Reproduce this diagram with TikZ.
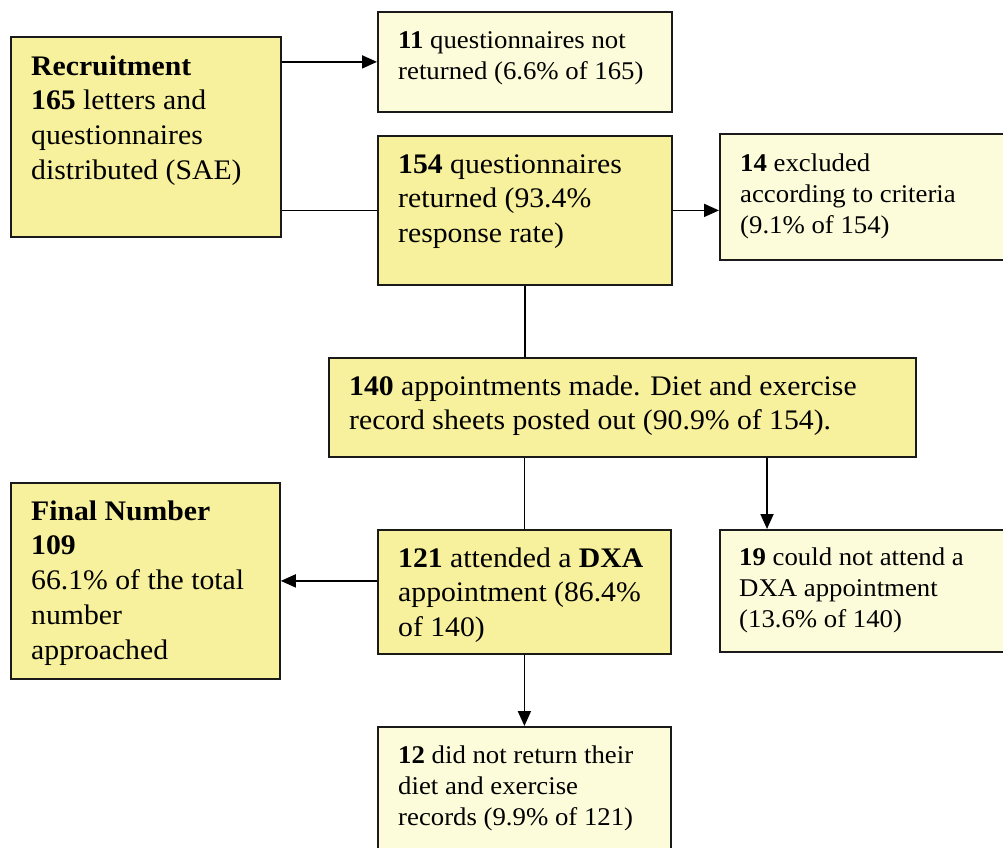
\documentclass[tikz,border=0pt]{standalone}
\usepackage{fontspec}
\setmainfont{Liberation Serif}[FakeStretch=1.05]
\usetikzlibrary{arrows.meta,calc}
\definecolor{darkfill}{HTML}{F7F09C}
\definecolor{lightfill}{HTML}{FCFCDA}
\definecolor{edgecol}{HTML}{1A1A1A}
\newcommand{\firstln}[1]{\rule{0pt}{#1}}
\begin{document}
\begin{tikzpicture}[x=1pt,y=-1pt,
  box/.style={draw=edgecol,line width=1.8pt,inner sep=0pt,anchor=north west},
  darkbox/.style={box,fill=darkfill},
  lightbox/.style={box,fill=lightfill},
  bigtext/.style={anchor=north west,inner sep=0pt,align=left,font=\fontsize{28.3}{34.7}\selectfont},
  smalltext/.style={anchor=north west,inner sep=0pt,align=left,font=\fontsize{25.5}{31}\selectfont},
  link/.style={line width=1.8pt,draw=black},
  arr/.style={link,-{Triangle[length=15pt,width=13pt]}}
]
\clip (0,0) rectangle (1003,847);
\fill[white] (0,0) rectangle (1003,847);

% boxes
\node[darkbox, minimum width=270pt, minimum height=200pt] (b1) at (10,36) {};
\node[lightbox, minimum width=294pt, minimum height=100pt] (b2) at (377,11) {};
\node[darkbox, minimum width=294pt, minimum height=149pt] (b3) at (377,135) {};
\node[lightbox, minimum width=300pt, minimum height=126pt] (b4) at (719,133) {};
\node[darkbox, minimum width=587pt, minimum height=99pt] (b5) at (328,357) {};
\node[darkbox, minimum width=269pt, minimum height=196pt] (b6) at (10,482) {};
\node[darkbox, minimum width=293pt, minimum height=124pt] (b7) at (377,529) {};
\node[lightbox, minimum width=300pt, minimum height=122pt] (b8) at (719,529) {};
\node[lightbox, minimum width=293pt, minimum height=140pt] (b9) at (377,726) {};

% texts
\node[bigtext] (t1) at (31,53) {\firstln{22pt}\textbf{Recruitment}\\\textbf{165} letters and\\questionnaires\\distributed (SAE)};
\node[smalltext] (t2) at (398,28) {\firstln{20pt}\textbf{11} questionnaires not\\returned (6.6\% of 165)};
\node[bigtext] (t3) at (398,151) {\firstln{22pt}\textbf{154} questionnaires\\returned (93.4\%\\response rate)};
\node[smalltext] (t4) at (740,151) {\firstln{20pt}\textbf{14} excluded\\according to criteria\\(9.1\% of 154)};
\node[bigtext] (t5) at (349,373) {\firstln{22pt}\textbf{140} appointments made. Diet and exercise\\record sheets posted out (90.9\% of 154).};
\node[bigtext] (t6) at (31,498) {\firstln{22pt}\textbf{Final Number}\\\textbf{109}\\66.1\% of the total\\number\\approached};
\node[bigtext] (t7) at (398,545) {\firstln{22pt}\textbf{121} attended a \textbf{DXA}\\appointment (86.4\%\\of 140)};
\node[smalltext] (t8) at (739,545) {\firstln{20pt}\textbf{19} could not attend a\\DXA appointment\\(13.6\% of 140)};
\node[smalltext] (t9) at (398,743) {\firstln{20pt}\textbf{12} did not return their\\diet and exercise\\records (9.9\% of 121)};

% connectors
\coordinate (c8) at ($(b8.north west)+(48,0)$);
\draw[arr] (b1.east |- b2.west) -- (b2.west);
\draw[link] (b1.east |- b3.west) -- (b3.west);
\draw[arr] (b3.east) -- (b3.east -| b4.west);
\draw[link] (b3.south) -- (b3.south |- b5.north);
\draw[link] (b7.north |- b5.south) -- (b7.north);
\draw[arr] (c8 |- b5.south) -- (c8);
\draw[arr] (b6.east -| b7.west) -- (b6.east);
\draw[arr] (b7.south) -- (b9.north);
\end{tikzpicture}
\end{document}
